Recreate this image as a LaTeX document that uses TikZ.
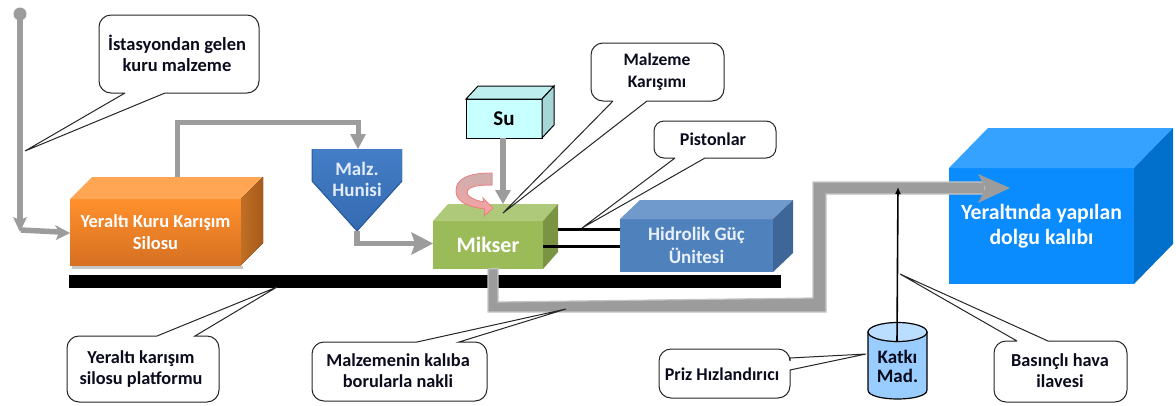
\documentclass[tikz,border=0pt]{standalone}
\usepackage{fontspec}
\setmainfont{Carlito}[BoldFont={Carlito Bold}]
\usetikzlibrary{calc,arrows.meta}
\definecolor{pipe}{HTML}{9C9C9C}
\definecolor{pipeglow}{HTML}{C4C4C4}
\definecolor{ink}{HTML}{0B0B1E}
\definecolor{siloA}{HTML}{FF902C}
\definecolor{siloB}{HTML}{D67022}
\definecolor{siloT}{HTML}{FFA654}
\definecolor{siloS}{HTML}{C07024}
\definecolor{siloD}{HTML}{A85A1A}
\definecolor{hopA}{HTML}{447EC6}
\definecolor{hopB}{HTML}{346AB0}
\definecolor{hopE}{HTML}{26589C}
\definecolor{hopT}{HTML}{E2ECFA}
\definecolor{mixF}{HTML}{9BBB59}
\definecolor{mixT}{HTML}{AEC97A}
\definecolor{mixS}{HTML}{7A9444}
\definecolor{hydF}{HTML}{4F81BD}
\definecolor{hydT}{HTML}{7099CC}
\definecolor{hydS}{HTML}{3E6698}
\definecolor{hydX}{HTML}{E8F0FA}
\definecolor{suF}{HTML}{C8FFFF}
\definecolor{suT}{HTML}{BEEEEE}
\definecolor{suS}{HTML}{A6D6D6}
\definecolor{molF}{HTML}{0A8CFF}
\definecolor{molT}{HTML}{36A2FF}
\definecolor{molS}{HTML}{0070CC}
\definecolor{rotA}{HTML}{CDAFAF}
\definecolor{rotB}{HTML}{FAA0A0}
\definecolor{rotE}{HTML}{F08282}
\definecolor{canF}{HTML}{99CCFF}
\definecolor{canT}{HTML}{BADEFF}
\tikzset{
  cube/.style={anchor=north west,inner sep=0pt,outer sep=0pt,align=center,font=\bfseries\fontsize{18.5}{22}\selectfont,text=white},
  callout/.style={draw=black!85,line width=1pt,fill=white},
  calltext/.style={align=center,inner sep=0pt,text=ink,font=\bfseries\fontsize{18.3}{21}\selectfont},
  pipeline/.style={draw=pipe,line width=5.5pt},
  pipehead/.style={fill=pipe,draw=none},
  piston/.style={draw=black,line width=3pt}
}
\newcommand\cubesides[5]{%
  \fill[#4] (#1.north west) -- ++(#2,-#3) -- ($(#1.north east)+(#2,-#3)$) -- (#1.north east) -- cycle;
  \fill[#5] (#1.north east) -- ++(#2,-#3) -- ($(#1.south east)+(#2,-#3)$) -- (#1.south east) -- cycle;
}
\begin{document}
\begin{tikzpicture}[x=1pt,y=-1pt]
\useasboundingbox (0,0) rectangle (1176,405);
% platform
\node[fill=black,anchor=north west,inner sep=0pt,minimum width=712pt,minimum height=13pt] (platform) at (69,275) {};
% silo
\fill[black!22] (72,266) rectangle (243,269);
\node[cube,minimum width=171pt,minimum height=66pt,top color=siloA,bottom color=siloB] (silo) at (70,199)
  {Yeraltı Kuru Karışım\\Silosu};
\cubesides{silo}{22}{22}{fill=siloT}{left color=siloS,right color=siloD}
% hopper
\fill[top color=hopA,bottom color=hopB] (312,149) -- (402,149) -- (402,181) -- (357,231) -- (312,181) -- cycle;
\draw[line width=1pt,hopE] (312,149) -- (312,181) -- (357,231) -- (402,181);
\node[inner sep=0pt,align=center,text=hopT,font=\bfseries\fontsize{19}{21}\selectfont] (hopper) at (357,179) {Malz.\\Hunisi};
% mixer
\node[cube,fill=mixF,minimum width=110pt,minimum height=48pt,font=\bfseries\fontsize{22}{24}\selectfont] (mikser) at (433,221) {Mikser};
\cubesides{mikser}{15}{17}{fill=mixT}{fill=mixS}
% hydraulic unit
\node[cube,fill=hydF,minimum width=153pt,minimum height=53pt,text=hydX,font=\bfseries\fontsize{19}{23}\selectfont] (hidrolik) at (620,219) {Hidrolik Güç\\Ünitesi};
\cubesides{hidrolik}{20}{19}{fill=hydT}{fill=hydS}
% water
\node[cube,draw=black,line width=1pt,fill=suF,minimum width=76pt,minimum height=39pt,text=black,font=\bfseries\fontsize{21}{24}\selectfont] (su) at (466,99) {Su};
\filldraw[draw=black,line width=1pt,fill=suT] (su.north west) -- ++(12,-13) -- ($(su.north east)+(12,-13)$) -- (su.north east) -- cycle;
\filldraw[draw=black,line width=1pt,fill=suS] (su.north east) -- ++(12,-13) -- ($(su.south east)+(12,-13)$) -- (su.south east) -- cycle;
% mould
\node[cube,fill=molF,minimum width=185pt,minimum height=116pt,font=\bfseries\fontsize{21.7}{25}\selectfont] (kalip) at (949,168) {Yeraltında yapılan\\dolgu kalıbı};
\cubesides{kalip}{39}{40}{fill=molT}{fill=molS}
% anchors for pipes
\coordinate (source) at (20,14);
\coordinate (elbow) at (21,230);
% source pipe
\fill[pipe] (source) circle (6.5);
\draw[pipeline,line width=6.5pt] (source) -- (20,220);
\fill[pipehead] (20,232) -- (13,217) -- (20,220) -- (27,217) -- cycle;
\draw[pipeline] (elbow) -- (60,232);
\fill[pipehead] (70,233) -- (55,225) -- (59,232) -- (56,240) -- cycle;
% silo to hopper
\draw[pipeline,line width=5pt] ([shift={(21.5,-22)}]silo.north) -- (177,122) -- (358,122) -- (358,138);
\fill[pipehead] (358,149) -- (350,134) -- (366,134) -- cycle;
% hopper to mixer
\draw[pipeline] (357,231) -- (357,243.5) -- (415,243.5);
\fill[pipehead] (433,243.5) -- (411,232) -- (415,243.5) -- (411,255) -- cycle;
% su to mixer
\draw[pipeline,line width=6pt] ([xshift=-1pt]su.south) -- (503,192);
\fill[pipehead] (503,204) -- (495,190) -- (511,190) -- cycle;
% pistons
\draw[piston] ($(mikser.north east)+(15,8)$) -- (hidrolik.west |- 0,229);
\draw[piston] (mikser.east |- 0,246) -- (hidrolik.west |- 0,246);
% main pipe
\filldraw[fill=pipe,draw=pipeglow,line width=1.2pt,line join=miter]
  ([xshift=0pt]mikser.south) -- (498,268.5) -- (498,302) -- (813,298) -- (813,182) -- (985,182) -- (985,194) -- (826,194) -- (826,312) -- (488,312) -- cycle;
\fill[pipehead] (1010,188) -- (978,174) -- (986,188) -- (978,203) -- cycle;
% mixer rotation arrow
\filldraw[top color=rotA,bottom color=rotB,draw=rotE,line width=.8pt]
  (492,173) .. controls (470,173) and (455,178) .. (456,192) .. controls (457,203) and (470,207) .. (485,209)
  -- (484,216) -- (493,208) -- (483,198) -- (484,202) .. controls (472,200) and (462,194) .. (470,188) .. controls (476,185) and (484,185) .. (492,185) -- cycle;
% additive cylinder
\filldraw[draw=black,line width=1.2pt,fill=canF] (868,332) -- (868,390) .. controls (868,402) and (927,402) .. (927,390) -- (927,332) -- cycle;
\filldraw[draw=black,line width=1.2pt,fill=canT] (897.5,332) ellipse[x radius=29.5,y radius=9.5];
\node[inner sep=0pt,align=center,text=ink,font=\bfseries\fontsize{19}{19}\selectfont] (katki) at (897.5,366) {Katkı\\Mad.};
\coordinate (katkitop) at (897,342);
\coordinate (airin) at (898,187);
\draw[black,line width=1.6pt,-{Latex[length=7pt,width=6pt]}] (katkitop) -- (airin);
% callouts
\draw[callout] (125,93) -- (25,151) -- (165,93) [rounded corners=12] -- (259,93) -- (259,15) -- (99,15) -- (99,93) -- (125,93);
\node[calltext,font=\bfseries\fontsize{18.5}{21}\selectfont] (c1) at (177,53) {İstasyondan gelen\\kuru malzeme};
\draw[callout] (613,101) -- (503,213) -- (647,101) [rounded corners=12] -- (724,101) -- (724,43) -- (591,43) -- (591,101) -- (613,101);
\node[calltext,font=\bfseries\fontsize{17.5}{22.5}\selectfont] (c2) at (657,72) {Malzeme\\Karışımı};
\draw[callout] (675,158) -- (582,228) -- (705,158) [rounded corners=10] -- (776,158) -- (776,121) -- (654,121) -- (654,158) -- (675,158);
\node[calltext,font=\bfseries\fontsize{18}{21}\selectfont] (c3) at (713,139) {Pistonlar};
\draw[callout] (157,336) -- (277,287) -- (195,336) [rounded corners=12] -- (219,336) -- (219,402) -- (67,402) -- (67,336) -- (157,336);
\node[calltext] (c4) at (141,369) {Yeraltı karışım\\silosu platformu};
\draw[callout] (417,342) -- (566,309) -- (459,342) [rounded corners=12] -- (487,342) -- (487,401) -- (312,401) -- (312,342) -- (417,342);
\node[calltext] (c5) at (398,371) {Malzemenin kalıba\\borularla nakli};
\draw[callout] (790,358) -- (866,354) -- (790,370) [rounded corners=12] -- (790,398) -- (659,398) -- (659,349) -- (790,349) -- (790,358);
\node[calltext,font=\bfseries\fontsize{18}{21}\selectfont] (c6) at (722,374) {Priz Hızlandırıcı};
\draw[callout] (1017,341) -- (900,274) -- (1048,341) [rounded corners=12] -- (1127,341) -- (1127,402) -- (994,402) -- (994,341) -- (1017,341);
\node[calltext] (c7) at (1060,371) {Basınçlı hava\\ilavesi};
\end{tikzpicture}
\end{document}
